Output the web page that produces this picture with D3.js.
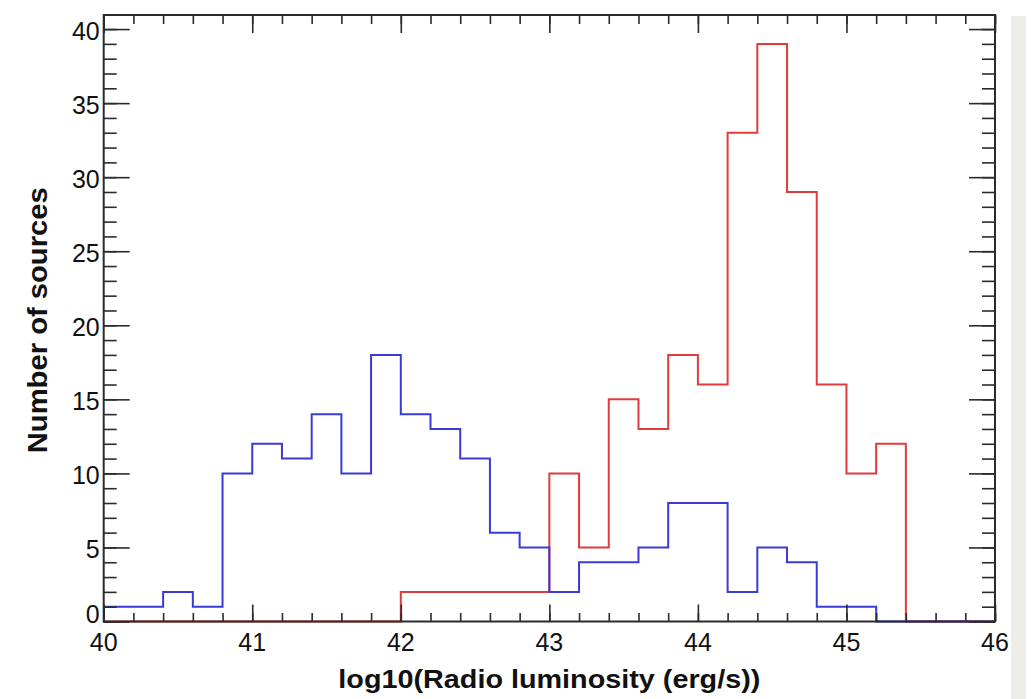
<!DOCTYPE html>
<html>
<head>
<meta charset="utf-8">
<script src="https://cdn.jsdelivr.net/npm/d3@7"></script>
<style>
  html, body { margin: 0; padding: 0; background: #ffffff; }
  svg { display: block; }
  text { font-family: "Liberation Sans", Arial, Helvetica, sans-serif; fill: #111; }
</style>
</head>
<body>
<svg id="chart" width="1031" height="699"></svg>
<script>
// Bin lower edges, log10(L / erg s^-1), width 0.2
const binEdges = [40.0, 40.2, 40.4, 40.6, 40.8, 41.0, 41.2, 41.4, 41.6, 41.8,
                  42.0, 42.2, 42.4, 42.6, 42.8, 43.0, 43.2, 43.4, 43.6, 43.8,
                  44.0, 44.2, 44.4, 44.6, 44.8, 45.0, 45.2, 45.4, 45.6, 45.8];
const binWidth = 0.2;

// Counts per bin for the two populations
const blueCounts = [1, 1, 2, 1, 10, 12, 11, 14, 10, 18,
                    14, 13, 11, 6, 5, 2, 4, 4, 5, 8,
                    8, 2, 5, 4, 1, 1, 0, 0, 0, 0];
const redCounts  = [0, 0, 0, 0, 0, 0, 0, 0, 0, 0,
                    2, 2, 2, 2, 2, 10, 5, 15, 13, 18,
                    16, 33, 39, 29, 16, 10, 12, 0, 0, 0];

// Axis ranges and tick labels
const xDomain = [40, 46];
const yDomain = [0, 40.95];
const xTickLabels = [40, 41, 42, 43, 44, 45, 46];
const yTickLabels = [0, 5, 10, 15, 20, 25, 30, 35, 40];

const xTitle = "log10(Radio luminosity (erg/s))";
const yTitle = "Number of sources";

const frame = { left: 103.7, right: 995, top: 15, bottom: 621.5 };
const axisColor = "#2b2b2b";

const svg = d3.select("#chart");

// faint page strip at the right border
svg.append("rect")
  .attr("x", 1011).attr("y", 16).attr("width", 15).attr("height", 699 - 16)
  .attr("fill", "#efede7");

const x = d3.scaleLinear().domain(xDomain).range([frame.left, frame.right]);
const y = d3.scaleLinear().domain(yDomain).range([frame.bottom, frame.top]);

// Histogram outlines as step paths
function stepPoints(counts) {
  const pts = binEdges.map((e, i) => [e, counts[i]]);
  pts.push([binEdges[binEdges.length - 1] + binWidth, counts[counts.length - 1]]);
  return pts;
}
const step = d3.line()
  .x(d => x(d[0]))
  .y(d => y(d[1]))
  .curve(d3.curveStepAfter);

svg.append("path")
  .datum(stepPoints(redCounts))
  .attr("d", step)
  .attr("fill", "none")
  .attr("stroke", "#e23b3b")
  .attr("stroke-width", 2);

svg.append("path")
  .datum(stepPoints(blueCounts))
  .attr("d", step)
  .attr("fill", "none")
  .attr("stroke", "#3a3ad8")
  .attr("stroke-width", 2);

// Axes: major ticks with labels, minor ticks in between, mirrored on the opposite sides
const xMinor = d3.range(40, 46.0001, 0.2).map(v => +v.toFixed(1));
const yMinor = d3.range(0, 41, 1);

function axisGroup(gen, tx, ty) {
  const g = svg.append("g").attr("transform", `translate(${tx},${ty})`).call(gen);
  g.select(".domain").remove();
  g.selectAll("line").attr("stroke", axisColor).attr("stroke-width", 1.6);
  return g;
}

// bottom
axisGroup(d3.axisTop(x).tickValues(xMinor).tickSize(8.5).tickFormat(""), 0, frame.bottom);
axisGroup(d3.axisTop(x).tickValues(xTickLabels).tickSize(17).tickFormat(""), 0, frame.bottom);
// top
axisGroup(d3.axisBottom(x).tickValues(xMinor).tickSize(9).tickFormat(""), 0, frame.top);
axisGroup(d3.axisBottom(x).tickValues(xTickLabels).tickSize(18).tickFormat(""), 0, frame.top);
// left
axisGroup(d3.axisRight(y).tickValues(yMinor).tickSize(13).tickFormat(""), frame.left, 0);
axisGroup(d3.axisRight(y).tickValues(yTickLabels).tickSize(26).tickFormat(""), frame.left, 0);
// right
axisGroup(d3.axisLeft(y).tickValues(yMinor).tickSize(13).tickFormat(""), frame.right, 0);
axisGroup(d3.axisLeft(y).tickValues(yTickLabels).tickSize(26).tickFormat(""), frame.right, 0);

// frame
svg.append("rect")
  .attr("x", frame.left).attr("y", frame.top)
  .attr("width", frame.right - frame.left).attr("height", frame.bottom - frame.top)
  .attr("fill", "none").attr("stroke", axisColor).attr("stroke-width", 2);

// tick labels
svg.append("g").selectAll("text")
  .data(xTickLabels).join("text")
  .attr("x", d => x(d))
  .attr("y", frame.bottom + 29)
  .attr("text-anchor", "middle")
  .attr("font-size", 25)
  .text(d => d);

svg.append("g").selectAll("text")
  .data(yTickLabels).join("text")
  .attr("x", frame.left - 4)
  .attr("y", d => d === 0 ? y(d) - 7.5 : y(d) + 2)
  .attr("dy", "0.35em")
  .attr("text-anchor", "end")
  .attr("font-size", 25)
  .text(d => d);

// axis titles
svg.append("text")
  .attr("x", (frame.left + frame.right) / 2)
  .attr("y", 688)
  .attr("text-anchor", "middle")
  .attr("font-size", 26)
  .attr("font-weight", "bold")
  .attr("textLength", 422)
  .attr("lengthAdjust", "spacingAndGlyphs")
  .text(xTitle);

svg.append("text")
  .attr("transform", `translate(47,${(frame.top + frame.bottom) / 2 + 2}) rotate(-90)`)
  .attr("text-anchor", "middle")
  .attr("font-size", 27)
  .attr("font-weight", "bold")
  .attr("textLength", 266)
  .attr("lengthAdjust", "spacingAndGlyphs")
  .text(yTitle);
</script>
</body>
</html>
